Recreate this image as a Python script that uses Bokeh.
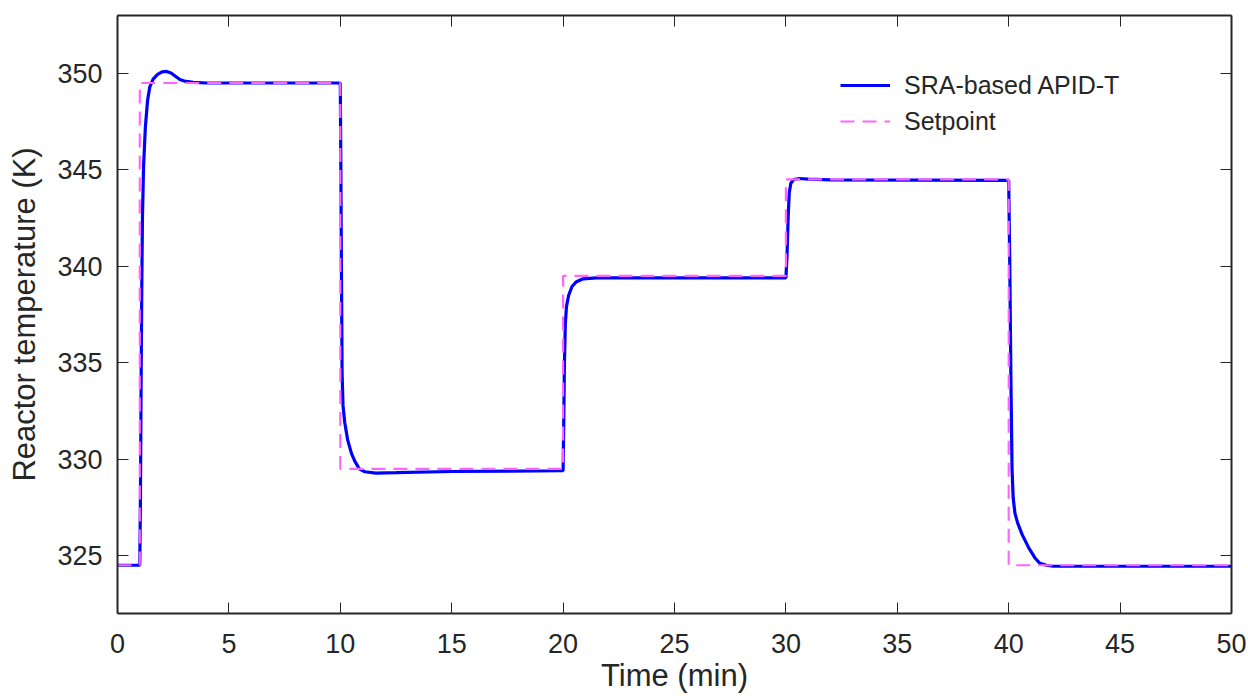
from bokeh.plotting import figure
from bokeh.models import (LinearAxis, Legend, LegendItem, Range1d, FixedTicker,
                          CustomJSTickFormatter)
from bokeh.embed import file_html
from bokeh.resources import INLINE

# ---- data ----
time_resp = [0.0, 1.0, 1.03, 1.06, 1.09, 1.12, 1.17, 1.25, 1.35, 1.45, 1.6, 1.8, 2.0, 2.2,
             2.4, 2.6, 2.8, 3.0, 3.4, 4.0, 10.0,
             10.02, 10.05, 10.08, 10.12, 10.2, 10.33, 10.5, 10.65, 10.85, 11.1, 11.6, 12.5,
             15.0, 20.0,
             20.03, 20.06, 20.1, 20.15, 20.25, 20.4, 20.6, 20.9, 21.5, 30.0,
             30.05, 30.1, 30.15, 30.22, 30.35, 30.6, 31.0, 32.0, 40.0,
             40.05, 40.1, 40.15, 40.2, 40.28, 40.4, 40.6, 40.9, 41.2, 41.4, 41.7, 42.0, 50.0]
temp_resp = [324.5, 324.5, 328.0, 334.0, 339.0, 342.5, 345.2, 347.2, 348.6, 349.3, 349.7,
             349.95, 350.08, 350.1, 350.02, 349.85, 349.68, 349.6, 349.53, 349.5, 349.5,
             346.0, 340.0, 334.5, 332.8, 331.9, 331.0, 330.3, 329.9, 329.5, 329.35, 329.28,
             329.3, 329.36, 329.4,
             332.0, 335.0, 337.0, 337.9, 338.5, 338.95, 339.2, 339.35, 339.4, 339.4,
             340.5, 342.5, 343.8, 344.3, 344.5, 344.55, 344.52, 344.48, 344.45,
             340.0, 334.0, 329.5, 328.0, 327.2, 326.7, 326.1, 325.4, 324.85, 324.6, 324.5,
             324.45, 324.45]

sp_time = [0, 1, 10, 20, 30, 40, 50]
sp_value = [324.5, 349.5, 329.5, 339.5, 344.5, 324.5, 324.5]

x_ticks = [0, 5, 10, 15, 20, 25, 30, 35, 40, 45, 50]
y_ticks = [325, 330, 335, 340, 345, 350]

series_labels = ["SRA-based APID-T", "Setpoint"]
x_title = "Time (min)"
y_title = "Reactor temperature (K)"

FONT = "Liberation Sans"
TXT = "#262626"

p = figure(width=1248, height=696, output_backend="svg", toolbar_location=None,
           x_range=Range1d(0, 50), y_range=Range1d(322, 353),
           min_border_left=117, min_border_right=17, min_border_top=15,
           min_border_bottom=83, background_fill_color="white",
           border_fill_color="white")
p.outline_line_color = None
p.grid.visible = False

for ax, ticks in ((p.xaxis[0], x_ticks), (p.yaxis[0], y_ticks)):
    ax.ticker = FixedTicker(ticks=ticks)
    ax.major_tick_in = 11
    ax.major_tick_out = 0
    ax.minor_tick_in = 0
    ax.minor_tick_out = 0
    ax.axis_line_color = TXT
    ax.axis_line_width = 2
    ax.major_tick_line_color = TXT
    ax.major_tick_line_width = 1
    ax.major_label_text_font = FONT
    ax.major_label_text_font_size = "27px"
    ax.major_label_text_color = TXT
    ax.axis_label_text_font = FONT
    ax.axis_label_text_font_size = "31px"
    ax.axis_label_text_font_style = "normal"
    ax.axis_label_text_color = TXT

p.xaxis[0].axis_label = x_title
p.yaxis[0].axis_label = y_title
p.xaxis[0].major_label_standoff = 20
p.xaxis[0].axis_label_standoff = 2
p.yaxis[0].major_label_standoff = 15
p.yaxis[0].axis_label_standoff = 12

for loc, ticks in (("above", x_ticks), ("right", y_ticks)):
    ax = LinearAxis(ticker=FixedTicker(ticks=ticks),
                    formatter=CustomJSTickFormatter(code="return ''"),
                    major_tick_in=11, major_tick_out=0, minor_tick_in=0, minor_tick_out=0,
                    axis_line_color=TXT, axis_line_width=2, major_tick_line_color=TXT,
                    major_label_standoff=0, major_label_text_font_size="1px")
    p.add_layout(ax, loc)

r1 = p.line(time_resp, temp_resp, line_color="#0000FF", line_width=3.2)
r2 = p.step(sp_time, sp_value, mode="after", line_color="#FF66FF", line_width=2.2,
            line_dash="14 8")

legend = Legend(items=[LegendItem(label=series_labels[0], renderers=[r1]),
                       LegendItem(label=series_labels[1], renderers=[r2])],
                location=(723, 477), border_line_color=None, background_fill_alpha=0,
                padding=0, margin=0, spacing=6, glyph_width=50, glyph_height=30,
                label_height=30, label_standoff=14, label_text_font=FONT,
                label_text_font_size="25px", label_text_color=TXT)
p.add_layout(legend)

open("out.html", "w").write(file_html(p, INLINE))
